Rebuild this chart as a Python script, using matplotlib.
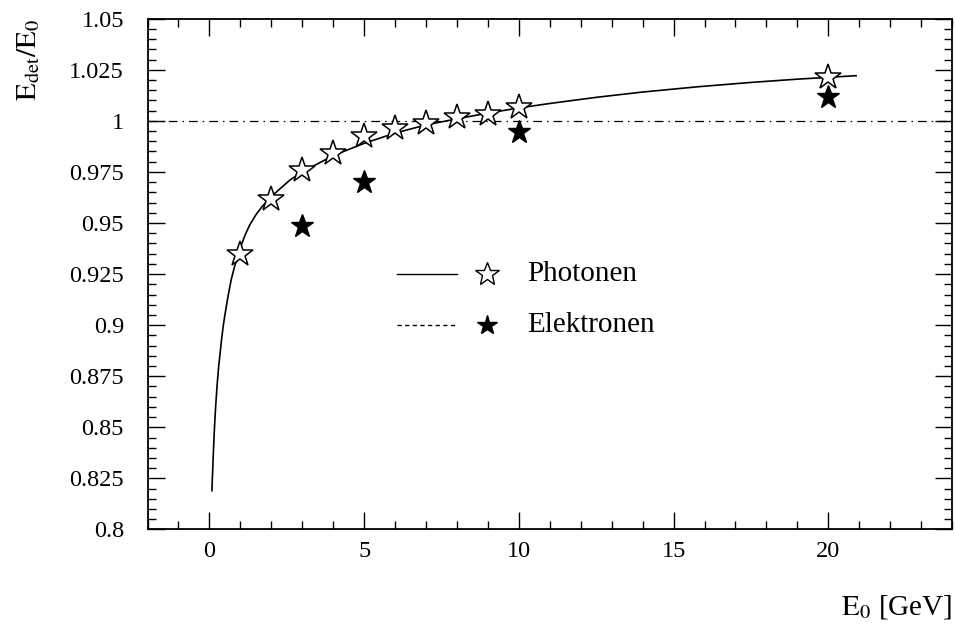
import matplotlib

matplotlib.use("Agg")
import matplotlib.pyplot as plt
from matplotlib.ticker import MultipleLocator, FuncFormatter

plt.rcParams["font.family"] = ["Liberation Serif", "DejaVu Serif"]
plt.rcParams["mathtext.fontset"] = "stix"

# Measured response E_det/E_0 for photons and electrons
photon_energy = [1, 2, 3, 4, 5, 6, 7, 8, 9, 10, 20]
photon_ratio = [0.9349, 0.9618, 0.9761, 0.9842, 0.9924, 0.9964, 0.9987,
                1.0021, 1.0034, 1.0067, 1.0216]

electron_energy = [3, 5, 10, 20]
electron_ratio = [0.9486, 0.9699, 0.9944, 1.0115]

# Fitted photon response curve
fit_energy = [0.08, 0.12, 0.16, 0.2, 0.25, 0.3, 0.35, 0.4, 0.45, 0.5, 0.6,
              0.7, 0.8, 0.9, 1.0, 1.15, 1.3, 1.5, 1.7, 2.0, 2.3, 2.6, 3.0,
              3.5, 4.0, 4.5, 5.0, 6.0, 7.0, 8.0, 9.0, 10.0, 11.0, 12.5,
              14.0, 15.8, 17.5, 19.0, 20.9]
fit_ratio = [0.819, 0.835, 0.849, 0.860, 0.871, 0.880, 0.887, 0.894, 0.900,
             0.905, 0.914, 0.922, 0.928, 0.933, 0.938, 0.944, 0.949, 0.954,
             0.958, 0.963, 0.967, 0.971, 0.975, 0.979, 0.983, 0.986, 0.989,
             0.994, 0.998, 1.001, 1.0038, 1.0063, 1.0085, 1.0115, 1.0141,
             1.0167, 1.0188, 1.0204, 1.0221]

fig = plt.figure(figsize=(9.55, 6.29), dpi=100)
ax = fig.add_axes([0.1545, 0.1582, 0.8424, 0.8121])

ax.axhline(1.0, color="black", lw=0.9, dashes=(7, 4, 1.2, 4))
ax.plot(fit_energy, fit_ratio, color="black", lw=1.2)
ax.plot(photon_energy, photon_ratio, ls="none", marker="*", ms=19,
        mfc="white", mec="black", mew=1.1)
ax.plot(electron_energy, electron_ratio, ls="none", marker="*", ms=17,
        mfc="black", mec="black")

ax.set_xlim(-2, 24)
ax.set_ylim(0.8, 1.05)
ax.xaxis.set_major_locator(MultipleLocator(5))
ax.xaxis.set_minor_locator(MultipleLocator(1))
ax.yaxis.set_major_locator(MultipleLocator(0.025))
ax.yaxis.set_minor_locator(MultipleLocator(0.005))
ax.yaxis.set_major_formatter(FuncFormatter(lambda v, _: f"{v:g}"))
ax.xaxis.set_major_formatter(FuncFormatter(lambda v, _: f"{v:g}"))

ax.tick_params(which="both", direction="in", top=True, right=True,
               width=1.0, labelsize=17.5)
ax.tick_params(which="major", length=12)
ax.tick_params(which="minor", length=6)
ax.tick_params(axis="x", which="major", pad=8)
ax.tick_params(axis="y", which="major", pad=17)
for side in ax.spines.values():
    side.set_linewidth(1.3)

# legend rows: line sample, marker, text
rows = [
    ("Photonen", "-", "white", 18, 0.500),
    ("Elektronen", (0, (3, 2.5)), "black", 15, 0.400),
]
for label, style, face, size, yy in rows:
    ax.plot([0.310, 0.385], [yy, yy], transform=ax.transAxes, color="black",
            lw=1.0, ls=style)
    ax.plot([0.4214], [yy], transform=ax.transAxes, marker="*", ms=size,
            mfc=face, mec="black", mew=1.0, ls="none")
    ax.text(0.472, yy, label, transform=ax.transAxes, fontsize=21,
            va="center", ha="left")

fig.text(29 / 955, 1 - 60 / 629, r"$\mathrm{E_{det}/E_{0}}$", rotation=90,
         fontsize=21, ha="center", va="center")
fig.text(952 / 955, 1 - 607 / 629, r"$\mathrm{E_{0}}$ [GeV]", fontsize=21,
         ha="right", va="center")

fig.savefig("out.png", dpi=100)
